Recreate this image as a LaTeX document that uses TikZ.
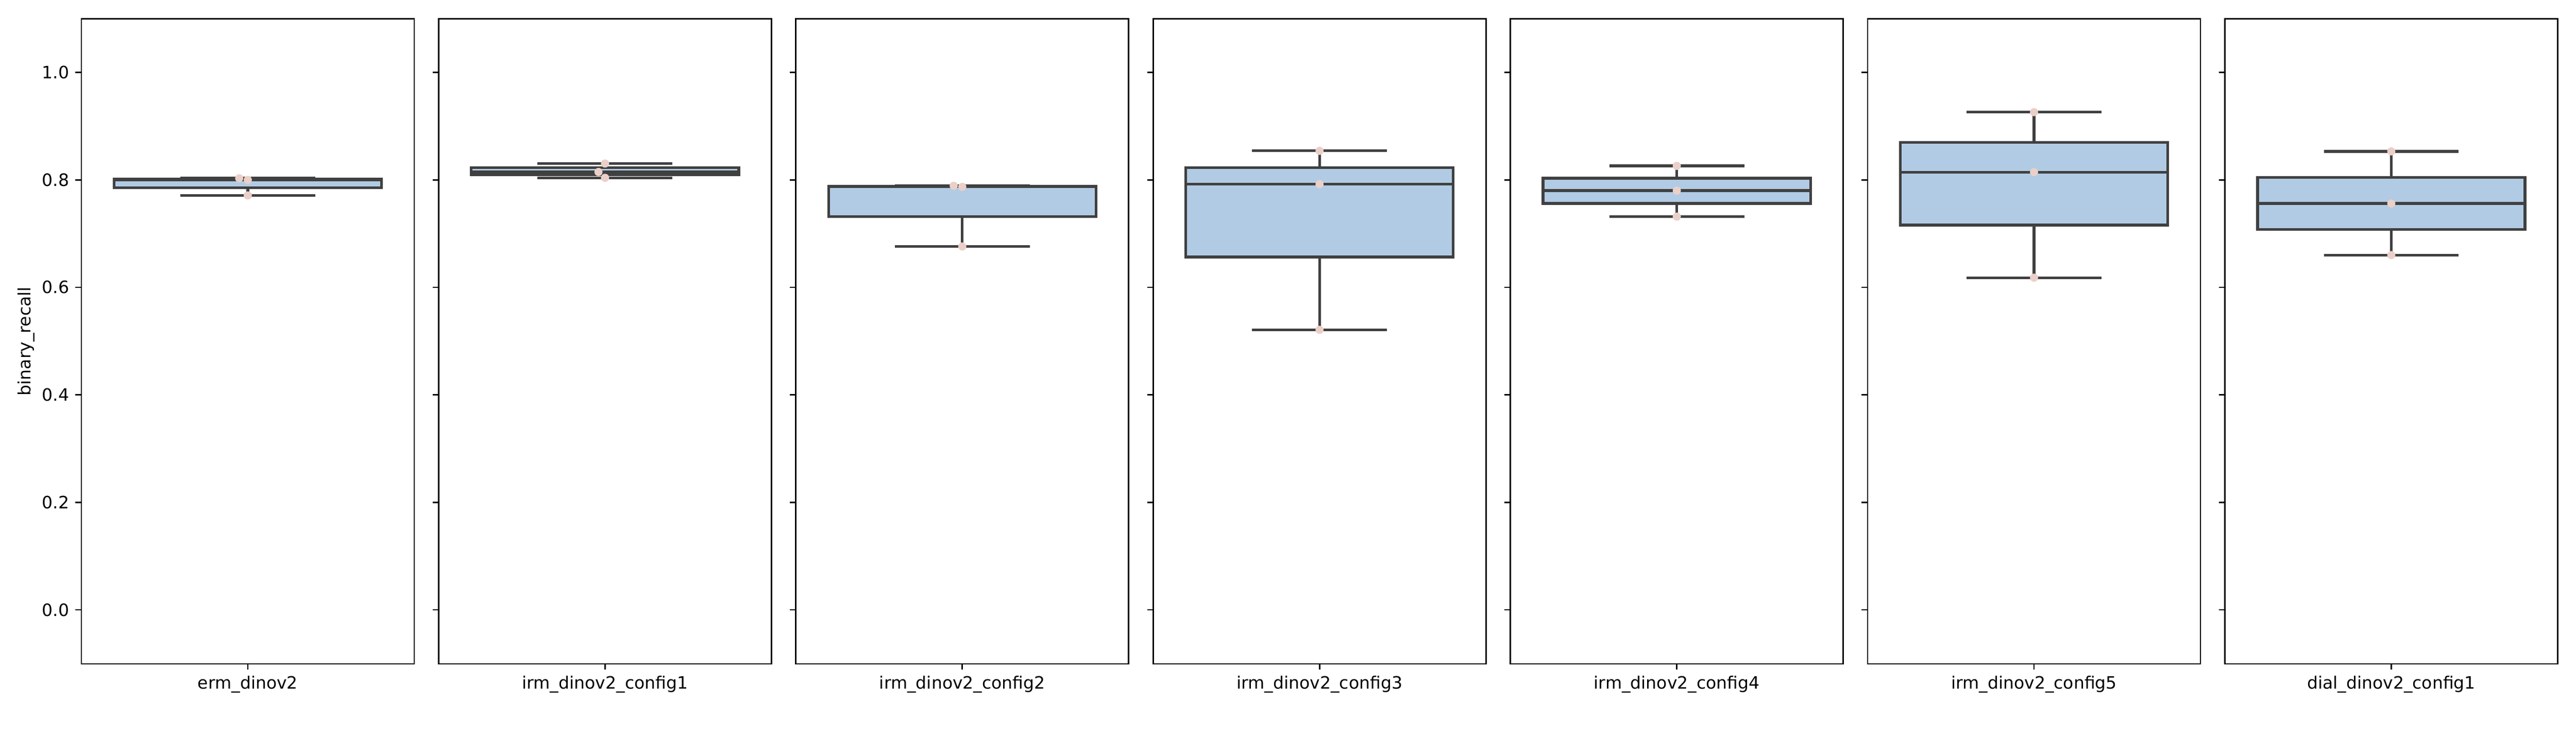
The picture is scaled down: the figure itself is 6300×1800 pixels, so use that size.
\documentclass[tikz,border=0pt]{standalone}
\usepackage{fontspec}
\setmainfont{DejaVu Sans}
\usepackage{tikz}
\usepackage{xcolor}
\definecolor{boxfill}{RGB}{177,203,228}
\definecolor{boxedge}{RGB}{64,64,64}
\definecolor{dotfill}{RGB}{234,208,200}
\tikzstyle{frame} = [draw=black, line width=0.8pt]
\tikzstyle{tickmark} = [draw=black, line width=0.8pt]
\tikzstyle{iqrbox} = [draw=boxedge, fill=boxfill, line width=1.6pt]
\tikzstyle{whisk} = [draw=boxedge, line width=1.6pt]
\tikzstyle{obs} = [fill=dotfill]
\tikzstyle{ticklab} = [inner sep=0pt, font=\fontsize{10}{12}\selectfont]

\begin{document}
\begin{tikzpicture}[x=0.24pt, y=0.24pt]
\useasboundingbox (0,0) rectangle (6300,1800);
% y axis label
\node[ticklab, rotate=90] (ylab) at (64,965) {binary\_recall};
% y tick labels, first panel only
\foreach \v in {0.0,0.2,0.4,0.6,0.8,1.0}
  \node[ticklab, anchor=east] (yl\v) at (170,{308+1315*\v}) {\v};
% one panel per model
\foreach \i/\name/\lo/\qa/\med/\qb/\hi/\hx/\mx in {
    0/erm\_dinov2/0.771/0.7855/0.800/0.8015/0.803/-21/0,
    1/irm\_dinov2\_config1/0.8038/0.8093/0.8147/0.8226/0.8304/0/-16,
    2/irm\_dinov2\_config2/0.676/0.7315/0.787/0.788/0.789/-21/0,
    3/irm\_dinov2\_config3/0.521/0.6565/0.792/0.823/0.854/0/0,
    4/irm\_dinov2\_config4/0.7316/0.756/0.780/0.803/0.826/0/0,
    5/irm\_dinov2\_config5/0.618/0.716/0.8144/0.870/0.926/0/0,
    6/dial\_dinov2\_config1/0.660/0.708/0.756/0.8045/0.853/0/0}
{
  \pgfmathsetmacro{\L}{199+873.7*\i}
  \pgfmathsetmacro{\C}{\L+407}
  % axes frame and ticks
  \draw[frame] (\L,176) rectangle ({\L+814},1754);
  \foreach \v in {0.0,0.2,0.4,0.6,0.8,1.0}
    \draw[tickmark] ({\L-14.6},{308+1315*\v}) -- (\L,{308+1315*\v});
  \draw[tickmark] (\C,176) -- (\C,161.4);
  \node[ticklab, anchor=north] (xl\i) at (\C,147) {\name};
  % box, median, whiskers, caps
  \draw[iqrbox] ({\C-327},{308+1315*\qa}) rectangle ({\C+327},{308+1315*\qb});
  \draw[whisk] ({\C-327},{308+1315*\med}) -- ({\C+327},{308+1315*\med});
  \draw[whisk] (\C,{308+1315*\qb}) -- (\C,{308+1315*\hi});
  \draw[whisk] (\C,{308+1315*\qa}) -- (\C,{308+1315*\lo});
  \draw[whisk] ({\C-165},{308+1315*\hi}) -- ({\C+165},{308+1315*\hi});
  \draw[whisk] ({\C-165},{308+1315*\lo}) -- ({\C+165},{308+1315*\lo});
  % data points
  \fill[obs] ({\C+\hx},{308+1315*\hi}) circle (10);
  \fill[obs] ({\C+\mx},{308+1315*\med}) circle (10);
  \fill[obs] (\C,{308+1315*\lo}) circle (10);
}
\end{tikzpicture}
\end{document}
